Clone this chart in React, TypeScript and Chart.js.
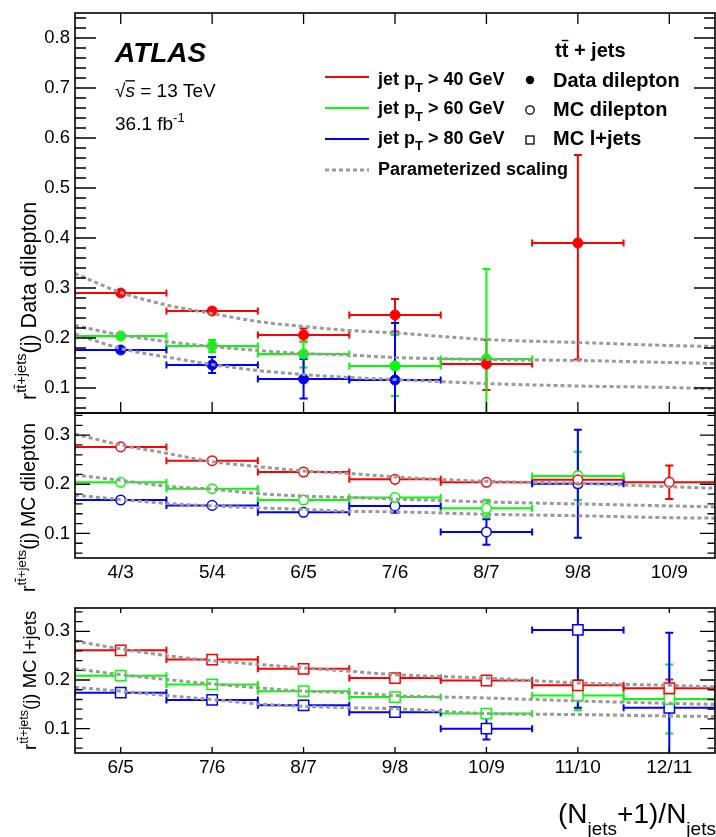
import React, { useEffect, useRef } from 'react';
import { Chart, registerables } from 'chart.js';

Chart.register(...registerables);

const W = 716;
const H = 837;
const FONT = '"Liberation Sans", Arial, Helvetica, sans-serif';

// ---------- categories ----------
const CATEGORY_POS = [1, 2, 3, 4, 5, 6, 7];
const MID_LABELS = ['4/3', '5/4', '6/5', '7/6', '8/7', '9/8', '10/9'];
const BOT_LABELS = ['6/5', '7/6', '8/7', '9/8', '10/9', '11/10', '12/11'];
const X_MIN = 0.5;
const X_MAX = 7.5;
const BIN_HALF = 0.5;

// ---------- y tick labels ----------
const TOP_Y_TICKS = [0.1, 0.2, 0.3, 0.4, 0.5, 0.6, 0.7, 0.8];
const MID_Y_TICKS = [0.1, 0.2, 0.3];
const BOT_Y_TICKS = [0.1, 0.2, 0.3];

// ---------- Data dilepton (top panel) ----------
const DATA_PT40 = [0.290, 0.254, 0.206, 0.246, 0.148, 0.390];
const DATA_PT40_UP = [0.004, 0.005, 0.013, 0.032, 0.048, 0.176];
const DATA_PT40_DN = [0.004, 0.005, 0.013, 0.033, 0.052, 0.233];
const DATA_PT60 = [0.204, 0.184, 0.168, 0.144, 0.158];
const DATA_PT60_UP = [0.004, 0.012, 0.024, 0.062, 0.180];
const DATA_PT60_DN = [0.004, 0.012, 0.027, 0.060, 0.180];
const DATA_PT80 = [0.176, 0.146, 0.118, 0.116];
const DATA_PT80_UP = [0.004, 0.016, 0.040, 0.114];
const DATA_PT80_DN = [0.004, 0.016, 0.039, 0.114];

// ---------- MC dilepton (middle panel) ----------
const MCDIL_PT40 = [0.276, 0.248, 0.225, 0.210, 0.204, 0.209, 0.204];
const MCDIL_PT40_ERR = [0.003, 0.003, 0.003, 0.004, 0.005, 0.015, 0.034];
const MCDIL_PT60 = [0.204, 0.191, 0.168, 0.173, 0.151, 0.217];
const MCDIL_PT60_ERR = [0.003, 0.003, 0.003, 0.004, 0.017, 0.049];
const MCDIL_PT80 = [0.168, 0.157, 0.143, 0.156, 0.103, 0.201];
const MCDIL_PT80_ERR = [0.003, 0.003, 0.003, 0.014, 0.026, 0.110];

// ---------- MC l+jets (bottom panel) ----------
const LJ_PT40 = [0.261, 0.242, 0.223, 0.204, 0.199, 0.189, 0.183];
const LJ_PT40_UP = [0.003, 0.003, 0.003, 0.004, 0.004, 0.010, 0.018];
const LJ_PT40_DN = [0.003, 0.003, 0.003, 0.004, 0.004, 0.010, 0.023];
const LJ_PT60 = [0.209, 0.191, 0.177, 0.165, 0.131, 0.168, 0.161];
const LJ_PT60_UP = [0.003, 0.003, 0.003, 0.004, 0.005, 0.032, 0.071];
const LJ_PT60_DN = [0.003, 0.003, 0.003, 0.004, 0.005, 0.030, 0.071];
const LJ_PT80 = [0.174, 0.159, 0.148, 0.134, 0.100, 0.303, 0.143];
const LJ_PT80_UP = [0.003, 0.003, 0.004, 0.005, 0.022, 0.060, 0.154];
const LJ_PT80_DN = [0.003, 0.003, 0.004, 0.005, 0.022, 0.160, 0.154];

// ---------- Parameterized scaling curves ----------
const CURVE_X = [0.5, 1, 1.5, 2, 2.5, 3, 3.5, 4, 5, 6, 7, 7.5];
const SCALE_DATA_40 = [0.329, 0.291, 0.266, 0.249, 0.233, 0.223, 0.215, 0.210, 0.197, 0.191, 0.185, 0.183];
const SCALE_DATA_60 = [0.225, 0.206, 0.193, 0.183, 0.175, 0.169, 0.166, 0.161, 0.157, 0.155, 0.151, 0.149];
const SCALE_DATA_80 = [0.208, 0.179, 0.162, 0.147, 0.135, 0.127, 0.121, 0.117, 0.109, 0.104, 0.101, 0.098];
const SCALE_MCDIL_40 = [0.302, 0.280, 0.263, 0.246, 0.236, 0.227, 0.222, 0.215, 0.206, 0.202, 0.195, 0.192];
const SCALE_MCDIL_60 = [0.219, 0.208, 0.196, 0.190, 0.181, 0.176, 0.173, 0.170, 0.164, 0.160, 0.156, 0.154];
const SCALE_MCDIL_80 = [0.178, 0.169, 0.161, 0.156, 0.152, 0.149, 0.145, 0.144, 0.139, 0.136, 0.132, 0.131];
const SCALE_LJ_40 = [0.280, 0.264, 0.250, 0.240, 0.232, 0.225, 0.218, 0.211, 0.204, 0.194, 0.189, 0.186];
const SCALE_LJ_60 = [0.223, 0.211, 0.201, 0.192, 0.184, 0.177, 0.174, 0.168, 0.163, 0.157, 0.152, 0.150];
const SCALE_LJ_80 = [0.185, 0.177, 0.168, 0.160, 0.151, 0.146, 0.143, 0.141, 0.131, 0.129, 0.126, 0.125];

const RED = '#ff0000';
const GREEN = '#00ff00';
const BLUE = '#0000ff';
const GRAY = '#9a9a9a';

type Style = 'filled' | 'circle' | 'square';

function pointSet(values: number[], up: number[], dn: number[], color: string, style: Style) {
  return {
    type: 'scatter',
    data: values.map((y, i) => ({ x: CATEGORY_POS[i], y })),
    errUp: up,
    errDn: dn,
    showLine: false,
    pointStyle: style === 'square' ? 'rect' : 'circle',
    pointRadius: style === 'square' ? 7.3 : style === 'filled' ? 5 : 4.8,
    pointBackgroundColor: style === 'filled' ? color : '#ffffff',
    pointBorderColor: color,
    pointBorderWidth: style === 'filled' ? 1 : 1.5,
    order: 2,
  };
}

function curveSet(values: number[]) {
  return {
    type: 'line',
    data: values.map((y, i) => ({ x: CURVE_X[i], y })),
    showLine: true,
    borderColor: GRAY,
    borderWidth: 3,
    borderDash: [4, 3],
    pointRadius: 0,
    fill: false,
    cubicInterpolationMode: 'monotone',
    order: 1,
  };
}

type Seg = { t: string; size: number; bold?: boolean; italic?: boolean; dy?: number; over?: number };

function drawSegs(ctx: CanvasRenderingContext2D, x: number, y: number, segs: Seg[]) {
  let cx = x;
  for (const s of segs) {
    ctx.font = `${s.italic ? 'italic ' : ''}${s.bold ? 'bold ' : ''}${s.size}px ${FONT}`;
    const yy = y + (s.dy || 0);
    ctx.fillText(s.t, cx, yy);
    if (s.over !== undefined) {
      const pre = ctx.measureText(s.t.slice(0, s.over)).width;
      const cw = ctx.measureText(s.t[s.over]).width;
      ctx.fillRect(cx + pre, yy - s.size * 0.86, cw, Math.max(1, s.size * 0.07));
    }
    cx += ctx.measureText(s.t).width;
  }
  return cx;
}

function drawYTitle(ctx: CanvasRenderingContext2D, xBase: number, yStart: number, F: number, label: string) {
  ctx.save();
  ctx.translate(xBase, yStart);
  ctx.rotate(-Math.PI / 2);
  drawSegs(ctx, 0, 0, [
    { t: 'r', size: F },
    { t: 'tt+jets', size: F * 0.68, dy: -F * 0.45, over: 1 },
    { t: '(j) ' + label, size: F },
  ]);
  ctx.restore();
}

function textPlugin(id: string, draw: (ctx: CanvasRenderingContext2D) => void) {
  return {
    id,
    afterDraw(chart: any) {
      const ctx = chart.ctx as CanvasRenderingContext2D;
      ctx.save();
      ctx.fillStyle = '#000';
      ctx.textAlign = 'left';
      ctx.textBaseline = 'alphabetic';
      draw(ctx);
      ctx.restore();
    },
  };
}

function framePlugin(id: string, yMajor: number, yMinor: number, xTop: number, xBottom: number) {
  return {
    id,
    afterDraw(chart: any) {
      const { ctx, chartArea: a, scales } = chart;
      const ys = scales.y;
      const xs = scales.x;
      ctx.save();
      ctx.strokeStyle = '#000';
      ctx.setLineDash([]);
      ctx.lineWidth = 1.6;
      ctx.strokeRect(a.left, a.top, a.right - a.left, a.bottom - a.top);
      ctx.lineWidth = 1.3;
      ctx.beginPath();
      const k0 = Math.ceil(ys.min * 50 - 1e-6);
      const k1 = Math.floor(ys.max * 50 + 1e-6);
      for (let k = k0; k <= k1; k++) {
        const py = ys.getPixelForValue(k / 50);
        const len = k % 5 === 0 ? yMajor : yMinor;
        ctx.moveTo(a.left, py);
        ctx.lineTo(a.left + len, py);
        ctx.moveTo(a.right, py);
        ctx.lineTo(a.right - len, py);
      }
      for (const xv of CATEGORY_POS) {
        const px = xs.getPixelForValue(xv);
        if (xTop > 0) {
          ctx.moveTo(px, a.top);
          ctx.lineTo(px, a.top + xTop);
        }
        if (xBottom > 0) {
          ctx.moveTo(px, a.bottom);
          ctx.lineTo(px, a.bottom - xBottom);
        }
      }
      ctx.stroke();
      ctx.restore();
    },
  };
}

const errorBarPlugin = {
  id: 'errbars',
  beforeDatasetsDraw(chart: any) {
    const { ctx, chartArea: a, scales } = chart;
    const xs = scales.x;
    const ys = scales.y;
    ctx.save();
    ctx.beginPath();
    ctx.rect(a.left, a.top, a.right - a.left, a.bottom - a.top);
    ctx.clip();
    ctx.setLineDash([]);
    ctx.lineWidth = 2;
    chart.data.datasets.forEach((ds: any) => {
      if (!ds.errUp) return;
      ctx.strokeStyle = ds.pointBorderColor;
      ds.data.forEach((p: any, j: number) => {
        const x0 = xs.getPixelForValue(p.x - BIN_HALF);
        const x1 = xs.getPixelForValue(p.x + BIN_HALF);
        const xc = xs.getPixelForValue(p.x);
        const yc = ys.getPixelForValue(p.y);
        const yt = ys.getPixelForValue(p.y + ds.errUp[j]);
        const yb = ys.getPixelForValue(p.y - ds.errDn[j]);
        ctx.beginPath();
        ctx.moveTo(x0, yc);
        ctx.lineTo(x1, yc);
        ctx.moveTo(x0, yc - 3.5);
        ctx.lineTo(x0, yc + 3.5);
        ctx.moveTo(x1, yc - 3.5);
        ctx.lineTo(x1, yc + 3.5);
        if (yb - yt > 3) {
          ctx.moveTo(xc, yt);
          ctx.lineTo(xc, yb);
          ctx.moveTo(xc - 4, yt);
          ctx.lineTo(xc + 4, yt);
          ctx.moveTo(xc - 4, yb);
          ctx.lineTo(xc + 4, yb);
        }
        ctx.stroke();
      });
    });
    ctx.restore();
  },
};

function yScale(min: number, max: number, ticks: number[]) {
  return {
    type: 'linear',
    min,
    max,
    afterBuildTicks: (s: any) => {
      s.ticks = ticks.map((v) => ({ value: v }));
    },
    afterFit: (s: any) => {
      s.width = 75;
      s.paddingTop = 0;
      s.paddingBottom = 0;
    },
    ticks: {
      callback: (v: any) => Number(v).toFixed(1),
      font: { family: FONT, size: 18.5 },
      color: '#000',
      padding: 5,
    },
    grid: { display: false, drawTicks: false },
    border: { display: false },
  };
}

function xScale(labels: string[] | null) {
  if (!labels) {
    return { type: 'linear', min: X_MIN, max: X_MAX, display: false };
  }
  return {
    type: 'linear',
    min: X_MIN,
    max: X_MAX,
    afterBuildTicks: (s: any) => {
      s.ticks = CATEGORY_POS.map((v) => ({ value: v }));
    },
    afterFit: (s: any) => {
      s.height = 30;
      s.paddingLeft = 0;
      s.paddingRight = 0;
    },
    ticks: {
      callback: (_v: any, i: number) => labels[i] ?? '',
      font: { family: FONT, size: 19 },
      color: '#000',
      padding: 3,
      maxRotation: 0,
      autoSkip: false,
    },
    grid: { display: false, drawTicks: false },
    border: { display: false },
  };
}

function baseConfig(datasets: any[], padding: any, x: any, y: any, plugins: any[]) {
  return {
    type: 'scatter',
    data: { datasets },
    options: {
      responsive: false,
      animation: false,
      events: [],
      layout: { padding, autoPadding: false },
      plugins: { legend: { display: false }, tooltip: { enabled: false }, title: { display: false } },
      scales: { x, y },
    },
    plugins: [errorBarPlugin, ...plugins],
  } as any;
}

function drawTopAnnotations(ctx: CanvasRenderingContext2D) {
  // ATLAS label
  drawSegs(ctx, 115, 62, [{ t: 'ATLAS', size: 28, bold: true, italic: true }]);
  drawSegs(ctx, 115, 96.5, [
    { t: '\u221A', size: 19 },
    { t: 's', size: 19, italic: true, over: 0 },
    { t: ' = 13 TeV', size: 19 },
  ]);
  drawSegs(ctx, 115, 130, [
    { t: '36.1 fb', size: 19 },
    { t: '-1', size: 13, dy: -8 },
  ]);
  // legend header
  drawSegs(ctx, 555, 57, [
    { t: 'tt', size: 20, bold: true, over: 1 },
    { t: ' + jets', size: 20, bold: true },
  ]);
  const rows = [
    { color: RED, thr: '40', lineY: 77, base: 85 },
    { color: GREEN, thr: '60', lineY: 108, base: 114 },
    { color: BLUE, thr: '80', lineY: 139, base: 143.5 },
  ];
  for (const r of rows) {
    ctx.strokeStyle = r.color;
    ctx.lineWidth = 2;
    ctx.setLineDash([]);
    ctx.beginPath();
    ctx.moveTo(325, r.lineY);
    ctx.lineTo(369, r.lineY);
    ctx.stroke();
    drawSegs(ctx, 378, r.base, [
      { t: 'jet p', size: 18, bold: true },
      { t: 'T', size: 13, bold: true, dy: 6.5 },
      { t: ' > ' + r.thr + ' GeV', size: 18, bold: true },
    ]);
  }
  ctx.strokeStyle = GRAY;
  ctx.lineWidth = 3;
  ctx.setLineDash([4, 3]);
  ctx.beginPath();
  ctx.moveTo(325, 170);
  ctx.lineTo(369, 170);
  ctx.stroke();
  ctx.setLineDash([]);
  drawSegs(ctx, 378, 175, [{ t: 'Parameterized scaling', size: 18, bold: true }]);

  // marker legend
  ctx.fillStyle = '#000';
  ctx.beginPath();
  ctx.arc(530, 80, 4.2, 0, Math.PI * 2);
  ctx.fill();
  ctx.strokeStyle = '#000';
  ctx.lineWidth = 1.3;
  ctx.beginPath();
  ctx.arc(530, 110, 4.2, 0, Math.PI * 2);
  ctx.stroke();
  ctx.strokeRect(526, 136, 8, 8);
  drawSegs(ctx, 553, 86.7, [{ t: 'Data dilepton', size: 20, bold: true }]);
  drawSegs(ctx, 553, 116, [{ t: 'MC dilepton', size: 20, bold: true }]);
  drawSegs(ctx, 553, 145, [{ t: 'MC l+jets', size: 20, bold: true }]);

  drawYTitle(ctx, 36, 400, 21.5, 'Data dilepton');
}

function configTop() {
  const datasets = [
    curveSet(SCALE_DATA_40),
    curveSet(SCALE_DATA_60),
    curveSet(SCALE_DATA_80),
    pointSet(DATA_PT40, DATA_PT40_UP, DATA_PT40_DN, RED, 'filled'),
    pointSet(DATA_PT60, DATA_PT60_UP, DATA_PT60_DN, GREEN, 'filled'),
    pointSet(DATA_PT80, DATA_PT80_UP, DATA_PT80_DN, BLUE, 'filled'),
  ];
  return baseConfig(
    datasets,
    { left: 0, right: 1, top: 13, bottom: H - 413 },
    xScale(null),
    yScale(0.05, 0.85, TOP_Y_TICKS),
    [framePlugin('frameTop', 21, 11, 11, 11), textPlugin('textTop', drawTopAnnotations)]
  );
}

function configMid() {
  const datasets = [
    curveSet(SCALE_MCDIL_40),
    curveSet(SCALE_MCDIL_60),
    curveSet(SCALE_MCDIL_80),
    pointSet(MCDIL_PT40, MCDIL_PT40_ERR, MCDIL_PT40_ERR, RED, 'circle'),
    pointSet(MCDIL_PT60, MCDIL_PT60_ERR, MCDIL_PT60_ERR, GREEN, 'circle'),
    pointSet(MCDIL_PT80, MCDIL_PT80_ERR, MCDIL_PT80_ERR, BLUE, 'circle'),
  ];
  return baseConfig(
    datasets,
    { left: 0, right: 1, top: 413, bottom: H - 558 - 30 },
    xScale(MID_LABELS),
    yScale(0.05, 0.345, MID_Y_TICKS),
    [
      framePlugin('frameMid', 15, 7.5, 0, 0),
      textPlugin('textMid', (ctx) => drawYTitle(ctx, 35, 592, 19.5, 'MC dilepton')),
    ]
  );
}

function configBot() {
  const datasets = [
    curveSet(SCALE_LJ_40),
    curveSet(SCALE_LJ_60),
    curveSet(SCALE_LJ_80),
    pointSet(LJ_PT40, LJ_PT40_UP, LJ_PT40_DN, RED, 'square'),
    pointSet(LJ_PT60, LJ_PT60_UP, LJ_PT60_DN, GREEN, 'square'),
    pointSet(LJ_PT80, LJ_PT80_UP, LJ_PT80_DN, BLUE, 'square'),
  ];
  return baseConfig(
    datasets,
    { left: 0, right: 1, top: 608, bottom: H - 753 - 30 },
    xScale(BOT_LABELS),
    yScale(0.05, 0.348, BOT_Y_TICKS),
    [
      framePlugin('frameBot', 15, 7.5, 5, 6),
      textPlugin('textBot', (ctx) => {
        drawYTitle(ctx, 36, 750, 18.5, 'MC l+jets');
        drawSegs(ctx, 558, 823, [
          { t: '(N', size: 28 },
          { t: 'jets', size: 19, dy: 12 },
          { t: '+1)/N', size: 28 },
          { t: 'jets', size: 19, dy: 12 },
        ]);
      }),
    ]
  );
}

const canvasStyle: React.CSSProperties = { position: 'absolute', left: 0, top: 0, width: W, height: H };

export default function App() {
  const topRef = useRef<HTMLCanvasElement>(null);
  const midRef = useRef<HTMLCanvasElement>(null);
  const botRef = useRef<HTMLCanvasElement>(null);

  useEffect(() => {
    const charts = [
      new Chart(topRef.current as HTMLCanvasElement, configTop()),
      new Chart(midRef.current as HTMLCanvasElement, configMid()),
      new Chart(botRef.current as HTMLCanvasElement, configBot()),
    ];
    return () => charts.forEach((c) => c.destroy());
  }, []);

  return (
    <div style={{ position: 'absolute', left: 0, top: 0, width: W, height: H, background: '#ffffff', overflow: 'hidden' }}>
      <canvas ref={topRef} width={W} height={H} style={canvasStyle} />
      <canvas ref={midRef} width={W} height={H} style={canvasStyle} />
      <canvas ref={botRef} width={W} height={H} style={canvasStyle} />
    </div>
  );
}
